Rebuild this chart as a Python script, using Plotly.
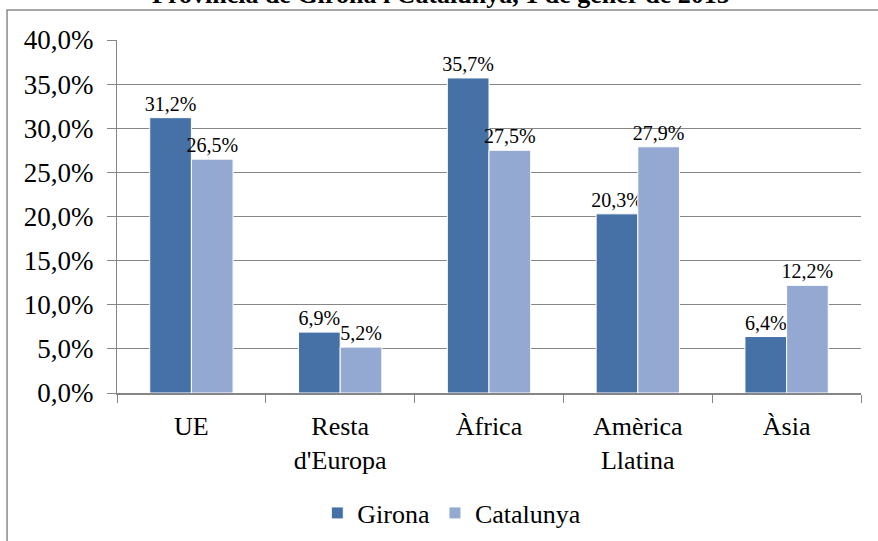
import plotly.graph_objects as go

categories = ["UE", "Resta<br>d'Europa", "Àfrica", "Amèrica<br>Llatina", "Àsia"]
girona = [31.2, 6.9, 35.7, 20.3, 6.4]
catalunya = [26.5, 5.2, 27.5, 27.9, 12.2]
series_names = ["Girona", "Catalunya"]
title_text = "Província de Girona i Catalunya, 1 de gener de 2015"

FONT = "Liberation Serif, Times New Roman, serif"
GRID = "#868686"

def lab(vals):
    return [f"{v:.1f}".replace(".", ",") + "%" for v in vals]

fig = go.Figure()
fig.add_trace(go.Bar(x=categories, y=girona, name=series_names[0],
                     marker=dict(color="#4571A7", line=dict(color="white", width=1)),
                     text=lab(girona), textposition="outside", cliponaxis=False,
                     textfont=dict(family=FONT, size=20, color="black")))
fig.add_trace(go.Bar(x=categories, y=catalunya, name=series_names[1],
                     marker=dict(color="#94A9D2", line=dict(color="white", width=1)),
                     text=lab(catalunya), textposition="outside", cliponaxis=False,
                     textfont=dict(family=FONT, size=20, color="black")))

fig.update_layout(
    width=878, height=541,
    margin=dict(l=117, r=17, t=40, b=148, autoexpand=False),
    paper_bgcolor="white", plot_bgcolor="white",
    barmode="group", bargap=0.44, bargroupgap=0.0,
    separators=",.",
    font=dict(family=FONT, size=26, color="black"),
    showlegend=True,
    legend=dict(orientation="h", x=0.45, xanchor="center", y=-0.34, yanchor="middle",
                font=dict(family=FONT, size=26, color="black"), itemwidth=30,
                bgcolor="rgba(0,0,0,0)"),
    annotations=[dict(text="<b>" + title_text + "</b>", xref="paper", yref="paper",
                      x=(441 - 117) / 744, y=1.082, xanchor="center", yanchor="bottom",
                      showarrow=False, font=dict(family=FONT, size=26, color="black"))],
    shapes=[dict(type="rect", xref="paper", yref="paper",
                 x0=-0.1478, x1=1.03, y0=-0.45, y1=1.085,
                 line=dict(color="#8a8a8a", width=1.5), layer="above")],
)
fig.update_traces(constraintext="none")
fig.update_yaxes(range=[0, 40], dtick=5, tickformat=".1f", ticksuffix="%",
                 showgrid=True, gridcolor=GRID, gridwidth=1,
                 showline=True, linecolor=GRID, linewidth=1,
                 ticks="outside", ticklen=9, tickcolor=GRID, automargin=False,
                 ticklabelstandoff=8,
                 tickfont=dict(family=FONT, size=27, color="black"), zeroline=False)
fig.update_xaxes(showline=True, linecolor=GRID, linewidth=2,
                 ticks="outside", ticklen=8, tickcolor=GRID, tickson="boundaries",
                 automargin=False, ticklabelstandoff=9,
                 tickfont=dict(family=FONT, size=26, color="black"))

fig.write_html("out.html", config={"displayModeBar": False},
               post_script="document.body.style.margin='0px';")
